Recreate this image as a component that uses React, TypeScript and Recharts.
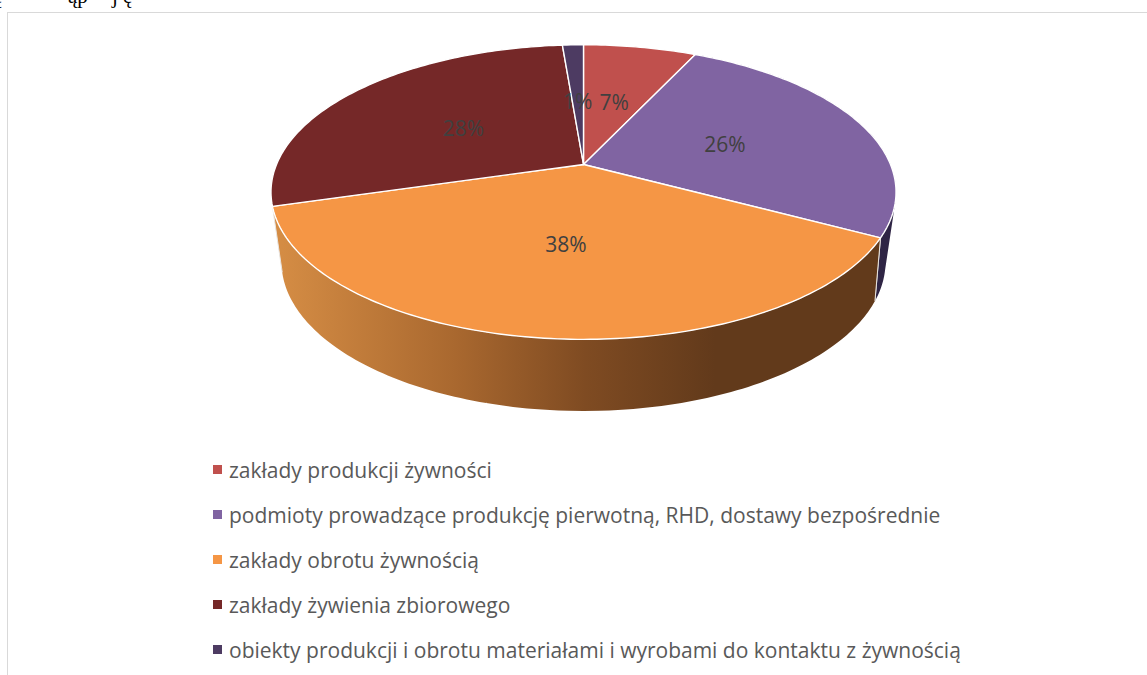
import React from "react";
import { PieChart, Pie, Legend } from "recharts";

const categories = [
  "zakłady produkcji żywności",
  "podmioty prowadzące produkcję pierwotną, RHD, dostawy bezpośrednie",
  "zakłady obrotu żywnością",
  "zakłady żywienia zbiorowego",
  "obiekty produkcji i obrotu materiałami i wyrobami do kontaktu z żywnością",
];
const shares = [7.0, 25.8, 37.7, 28.2, 1.3];
const topColors = ["#c0504d", "#8064a2", "#f59645", "#752828", "#4d3b62"];
const wallColors = ["none", "#2f2545", "url(#wallGradient)", "none", "none"];

const chartData = categories.map((name, i) => ({
  name,
  value: shares[i],
  fill: topColors[i],
  wall: wallColors[i],
}));

// Tilted-disc projection: apex of the pie sits above the ellipse centre.
const PERSPECTIVE = 0.1871;
const SQUASH = 0.463;
const WALL = { cy: 262 - 164.5, rx: 302, ry: 149 };
const RIM_RY_TOP = 147;
const TOP_CY_OFFSET = 192 - 164.5;

const project = (cx: number, cy: number, r: number, deg: number, f = 1) => {
  const a = (deg * Math.PI) / 180;
  const u = Math.cos(a) * f;
  const v = Math.sin(a) * f;
  const d = 1 + PERSPECTIVE * v;
  return [cx + (r * u) / d, cy - (r * SQUASH * v) / d];
};

const lower = (cx: number, cy: number, p: number[]) => {
  const ny = Math.min(1, Math.max(-1, (p[1] - cy - TOP_CY_OFFSET) / RIM_RY_TOP));
  const my = Math.sign(ny) * Math.pow(Math.abs(ny), 1.15);
  const mx = Math.sign(p[0] - cx) * Math.sqrt(Math.max(0, 1 - my * my));
  return [cx + mx * WALL.rx, cy + WALL.cy + my * WALL.ry];
};

const arcPoints = (cx: number, cy: number, r: number, from: number, to: number) => {
  const pts: number[][] = [];
  const n = Math.max(2, Math.ceil(Math.abs(to - from)));
  for (let i = 0; i <= n; i++) pts.push(project(cx, cy, r, from + ((to - from) * i) / n));
  return pts;
};

const toPath = (pts: number[][]) =>
  pts.map((p, i) => `${i ? "L" : "M"}${p[0].toFixed(2)} ${p[1].toFixed(2)}`).join(" ");

const signedArea = (pts: number[][]) =>
  pts.reduce((sum, p, i) => {
    const q = pts[(i + 1) % pts.length];
    return sum + p[0] * q[1] - q[0] * p[1];
  }, 0);

const orient = (pts: number[][]) => (signedArea(pts) < 0 ? [...pts].reverse() : pts);

const TopSlice = (props: any) => {
  const { cx, cy, outerRadius, startAngle, endAngle, fill } = props;
  const rim = arcPoints(cx, cy, outerRadius, startAngle, endAngle);
  return <path d={`M${cx} ${cy} ${toPath(rim).replace("M", "L")} Z`} fill={fill} stroke="#ffffff" strokeWidth={1.4} strokeLinejoin="round" />;
};

const WallSlice = (props: any) => {
  const { cx, cy, outerRadius, startAngle, endAngle, payload } = props;
  if (payload.wall === "none") return <g />;
  const rim = arcPoints(cx, cy, outerRadius, startAngle, endAngle);
  const first = rim[0];
  const last = rim[rim.length - 1];
  const seam = [
    [first, lower(cx, cy, first)],
    [last, lower(cx, cy, last)],
  ];
  const quads = rim
    .slice(1)
    .map((p, i) => `${toPath(orient([rim[i], p, lower(cx, cy, p), lower(cx, cy, rim[i])]))} Z`)
    .join(" ");
  return (
    <g>
      <path d={quads} fill={payload.wall} stroke="none" fillRule="nonzero" />
      {seam.map((s, i) => (
        <path key={i} d={toPath(s)} stroke="#e8e4e0" strokeWidth={1} fill="none" />
      ))}
    </g>
  );
};

const SliceLabel = (props: any) => {
  const { cx, cy, outerRadius, midAngle, percent } = props;
  const [x, y] = project(cx, cy, outerRadius, midAngle, 0.5);
  return (
    <text x={x} y={y + 1.5} textAnchor="middle" dominantBaseline="central" fill="#404040" fontFamily="'Open Sans', sans-serif" fontSize={21}>
      {`${Math.round(percent * 100)}%`}
    </text>
  );
};

const LegendList = () => (
  <div style={{ fontFamily: "'Open Sans', sans-serif", fontSize: 21, color: "#595959" }}>
    {chartData.map((d) => (
      <div key={d.name} style={{ display: "flex", alignItems: "center", height: 45, whiteSpace: "nowrap" }}>
        <span style={{ width: 9, height: 9, background: d.fill, marginRight: 7, display: "inline-block" }} />
        <span>{d.name}</span>
      </div>
    ))}
  </div>
);

const clippedGlyphs = [
  { text: "ąp", left: 68 },
  { text: "j", left: 112 },
  { text: "ę", left: 123 },
  { text: "ę", left: -7 },
];

export default function App() {
  return (
    <div style={{ position: "absolute", left: 0, top: 0, width: 1147, height: 675, overflow: "hidden", background: "#ffffff" }}>
      {clippedGlyphs.map((g) => (
        <span key={g.left} style={{ position: "absolute", left: g.left, top: -16, fontFamily: "'Liberation Serif', serif", fontSize: 21, lineHeight: "24px", color: "#000" }}>
          {g.text}
        </span>
      ))}
      <div style={{ position: "absolute", left: 7, top: 12, width: 1160, height: 680, borderLeft: "1.5px solid #d9d9d9", borderTop: "1.5px solid #d9d9d9" }} />
      <div style={{ position: "absolute", left: 0, top: 0 }}>
        <PieChart width={1147} height={675} margin={{ top: 0, right: 0, bottom: 0, left: 0 }}>
          <defs>
            <linearGradient id="wallGradient" gradientUnits="userSpaceOnUse" x1={282} y1={0} x2={715} y2={0}>
              <stop offset="0" stopColor="#d48c44" />
              <stop offset="0.4" stopColor="#a9682f" />
              <stop offset="0.7" stopColor="#7f4b22" />
              <stop offset="1" stopColor="#623a1b" />
            </linearGradient>
          </defs>
          <Pie
            data={chartData}
            dataKey="value"
            nameKey="name"
            cx={583.5}
            cy={164.5}
            innerRadius={0}
            outerRadius={307}
            startAngle={90}
            endAngle={-270}
            stroke="none"
            legendType="none"
            isAnimationActive={false}
            shape={WallSlice}
          />
          <Pie
            data={chartData}
            dataKey="value"
            nameKey="name"
            cx={583.5}
            cy={164.5}
            innerRadius={0}
            outerRadius={307}
            startAngle={90}
            endAngle={-270}
            isAnimationActive={false}
            shape={TopSlice}
            label={SliceLabel}
            labelLine={false}
          />
          <Legend layout="vertical" content={LegendList} wrapperStyle={{ left: 213, top: 447, width: "auto" }} />
        </PieChart>
      </div>
    </div>
  );
}
